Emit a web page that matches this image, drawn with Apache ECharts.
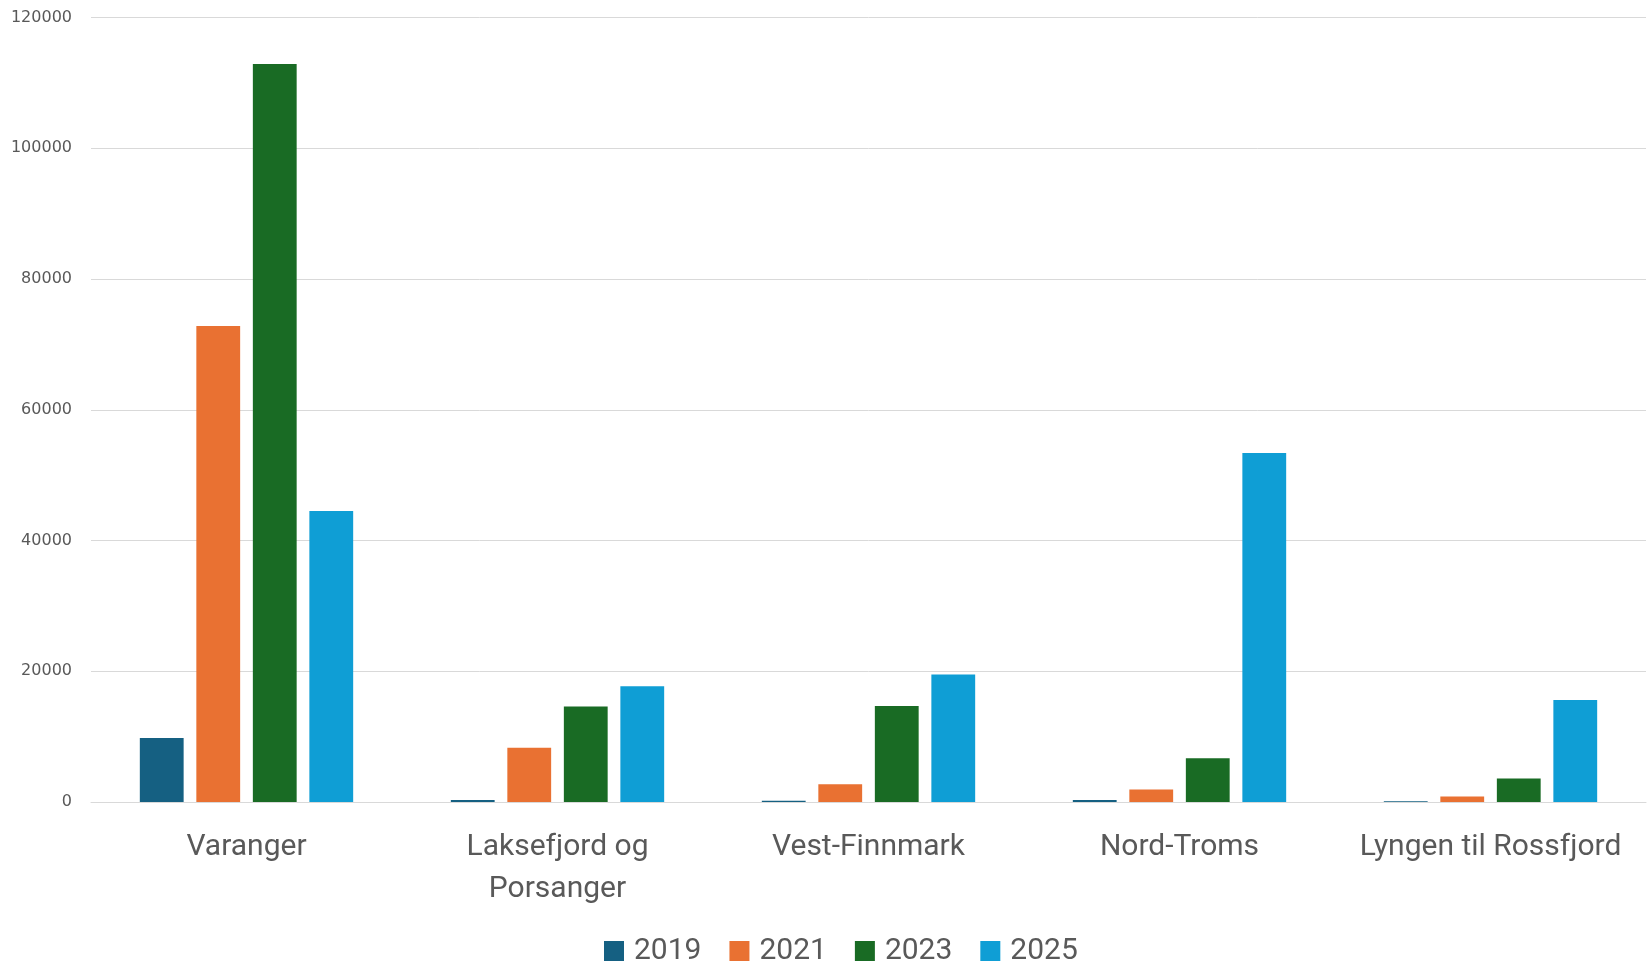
<!DOCTYPE html>
<html>
<head>
<meta charset="utf-8">
<script src="https://cdn.jsdelivr.net/npm/echarts@6/dist/echarts.min.js"></script>
<style>
html,body{margin:0;padding:0;background:#fff;}
#c{width:1648px;height:967px;}
</style>
</head>
<body>
<div id="c"></div>
<script>
const categories = ['Varanger', 'Laksefjord og\nPorsanger', 'Vest-Finnmark', 'Nord-Troms', 'Lyngen til Rossfjord'];
const years = ['2019', '2021', '2023', '2025'];
const s2019 = [9800, 300, 200, 300, 100];
const s2021 = [72800, 8300, 2700, 1900, 850];
const s2023 = [112900, 14600, 14700, 6700, 3600];
const s2025 = [44500, 17700, 19500, 53400, 15600];
const colors = ['#156082', '#E97132', '#196B24', '#0F9ED5'];
const yTicks = [0, 20000, 40000, 60000, 80000, 100000, 120000];

const seriesData = [s2019, s2021, s2023, s2025];
const chart = echarts.init(document.getElementById('c'));
chart.setOption({
  animation: false,
  backgroundColor: '#ffffff',
  textStyle: { fontFamily: 'Roboto' },
  grid: { left: 91, right: 2, top: 17.5, bottom: 165 },
  legend: {
    data: years,
    left: 599,
    top: 931,
    itemWidth: 20,
    itemHeight: 20,
    itemGap: 28,
    icon: 'rect',
    textStyle: { fontSize: 30, color: '#595959', fontFamily: 'Roboto', padding: [0, 0, 0, 5] }
  },
  xAxis: {
    type: 'category',
    data: categories,
    axisTick: { show: false },
    axisLine: { lineStyle: { color: '#d9d9d9', width: 1 } },
    axisLabel: { fontSize: 30, color: '#595959', margin: 24, lineHeight: 42, interval: 0, fontFamily: 'Roboto' }
  },
  yAxis: {
    type: 'value',
    min: yTicks[0],
    max: yTicks[yTicks.length - 1],
    interval: 20000,
    axisLine: { show: false },
    axisTick: { show: false },
    splitLine: { lineStyle: { color: '#d9d9d9', width: 1 } },
    axisLabel: { fontSize: 16, color: '#595959', margin: 19, fontFamily: 'DejaVu Sans', formatter: v => String(v) }
  },
  series: years.map((y, i) => ({
    name: y,
    type: 'bar',
    data: seriesData[i],
    itemStyle: { color: colors[i] },
    barGap: '29%',
    barCategoryGap: '31.4%'
  }))
});
</script>
</body>
</html>
